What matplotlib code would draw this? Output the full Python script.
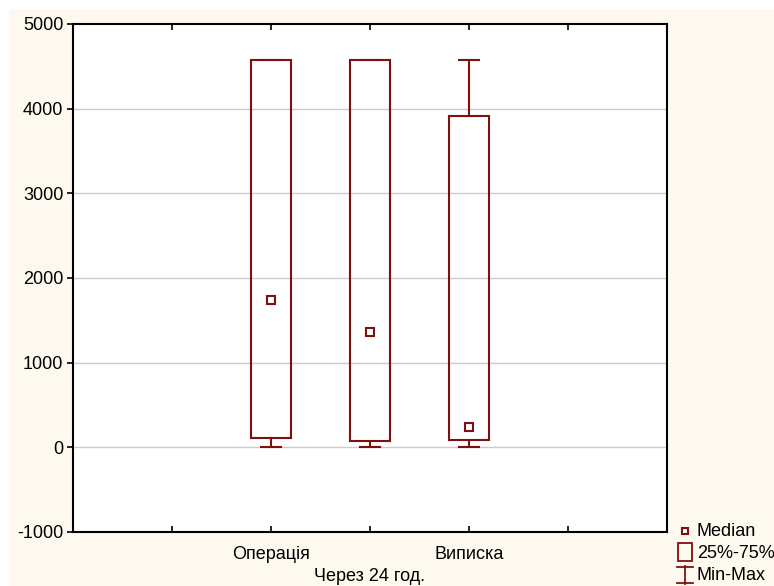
import matplotlib.pyplot as plt
from matplotlib.patches import Rectangle
from matplotlib.lines import Line2D

# data
groups = ["Операція", "", "Виписка"]
minimum = [0, 0, 0]
q1 = [106, 71, 83]
median = [1736, 1358, 236]
q3 = [4571, 4571, 3909]
maximum = [4571, 4571, 4571]

positions = [2, 3, 4]
red = "#7f1010"
bg = "#fdf9ee"

plt.rcParams["font.family"] = ["Liberation Sans", "DejaVu Sans"]
plt.rcParams["font.size"] = 13
plt.rcParams["axes.unicode_minus"] = False

fig = plt.figure(figsize=(7.74, 5.86), dpi=100, facecolor="white")


def fx(px):
    return px / 774


def fy(py):
    return 1 - py / 586


# cream panel, leaving a thin white strip at the top and left
fig.add_artist(Rectangle((fx(9), 0), 1 - fx(9), fy(9), facecolor=bg,
                         edgecolor="none", transform=fig.transFigure, zorder=0))

ax = fig.add_axes([fx(73), fy(532), 594 / 774, 508 / 586])

box_w = 0.4
cap_w = 0.2
for x, lo, a, m, b, hi in zip(positions, minimum, q1, median, q3, maximum):
    ax.add_patch(Rectangle((x - box_w / 2, a), box_w, b - a, fill=False,
                           edgecolor=red, linewidth=1.5, zorder=3))
    ax.plot([x, x], [lo, a], color=red, lw=1.5, zorder=3)
    ax.plot([x, x], [b, hi], color=red, lw=1.5, zorder=3)
    ax.plot([x - cap_w / 2, x + cap_w / 2], [lo, lo], color=red, lw=1.5, zorder=3)
    ax.plot([x - cap_w / 2, x + cap_w / 2], [hi, hi], color=red, lw=1.5, zorder=3)
    ax.plot(x, m, marker="s", ms=5.5, mfc="white", mec=red, mew=1.5, zorder=4)

ax.set_xlim(0, 6)
ax.set_ylim(-1000, 5000)
ax.set_yticks(range(-1000, 5001, 1000))
ax.set_xticks([1, 2, 3, 4, 5])
ax.set_xticklabels(["", groups[0], groups[1], groups[2], ""])
ax.tick_params(axis="x", direction="in", top=True, length=4, width=1.2, pad=10)
ax.tick_params(axis="y", direction="out", length=4, width=1.2, pad=3)
for y in range(0, 5000, 1000):
    ax.axhline(y, color="#cccccc", lw=1, zorder=1)
for s in ax.spines.values():
    s.set_linewidth(1.5)
ax.set_xlabel("Через 24 год.", labelpad=4)

# legend drawn at the bottom right, outside the axes
fig.add_artist(Line2D([fx(685)], [fy(531)], marker="s", ms=5, mfc="white",
                      mec=red, mew=1.5, transform=fig.transFigure))
fig.add_artist(Rectangle((fx(678), fy(561)), fx(14), 18 / 586, fill=False,
                         edgecolor=red, lw=1.3, transform=fig.transFigure))
fig.add_artist(Line2D([fx(685), fx(685)], [fy(566), fy(584)], color=red, lw=1.3,
                      transform=fig.transFigure))
fig.add_artist(Line2D([fx(677), fx(693)], [fy(567), fy(567)], color=red, lw=1.3,
                      transform=fig.transFigure))
fig.add_artist(Line2D([fx(677), fx(693)], [fy(583), fy(583)], color=red, lw=1.3,
                      transform=fig.transFigure))
for label, py in [("Median", 531), ("25%-75%", 553), ("Min-Max", 575)]:
    fig.text(fx(697), fy(py), label, va="center", ha="left", fontsize=13)

fig.savefig("out.png", dpi=100, facecolor="white")
